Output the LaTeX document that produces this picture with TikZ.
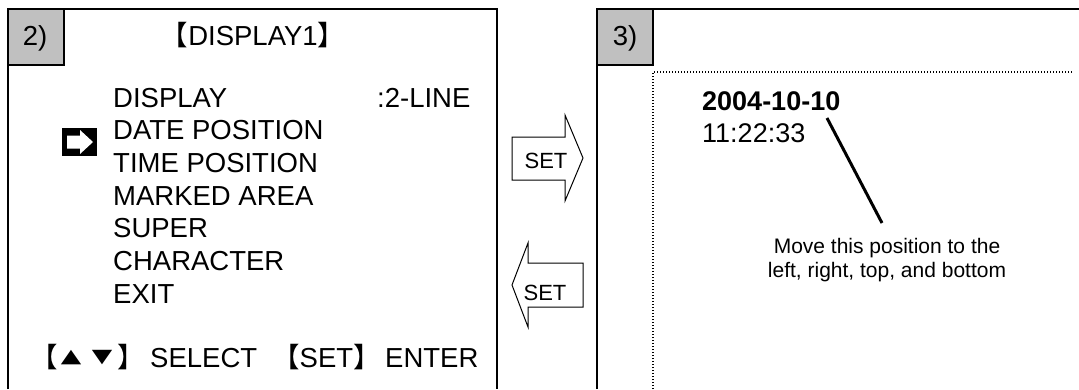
\documentclass[tikz,border=0pt]{standalone}
\usepackage{fontspec}
\setmainfont{Liberation Sans}
\newfontfamily\cjk{Noto Sans CJK SC}
\newfontfamily\djv{DejaVu Sans}
\definecolor{boxgray}{RGB}{192,192,192}
\newcommand{\tri}[1]{{\djv\fontsize{19}{19}\selectfont\scalebox{1.4}[1]{#1}}}
\begin{document}
\begin{tikzpicture}[x=1pt,y=-1pt,
  frame/.style={line width=1.6pt},
  labelbox/.style={draw, line width=1.6pt, fill=boxgray},
  dotline/.style={line width=1.4pt, dash pattern=on 1.4pt off 1.6pt},
  menu/.style={anchor=base west, inner sep=0pt, font=\fontsize{27.5}{27.5}\selectfont},
  big/.style={anchor=base, inner sep=0pt, font=\fontsize{27.5}{27.5}\selectfont},
  datetext/.style={anchor=base west, inner sep=0pt, font=\fontsize{27}{27}\selectfont},
  note/.style={anchor=base, inner sep=0pt, font=\fontsize{21}{21}\selectfont},
  settext/.style={anchor=base, inner sep=0pt, font=\fontsize{22}{22}\selectfont},
  bigarrow/.style={draw, line width=1pt, fill=white, line join=miter},
  leader/.style={line width=3pt}]
\useasboundingbox (0,0) rectangle (1079,389);
\fill[white] (0,0) rectangle (1079,389);
% left panel
\draw[frame] (8,389) -- (8,9) -- (497,9) -- (497,389);
\draw[labelbox] (8,9) rectangle (64,65);
\node[big] (lab2) at (35,45) {2)};
\node[big] (title) at (253,45) {{\cjk 【}DISPLAY1{\cjk 】}};
\node[menu] (m1) at (113,107) {DISPLAY};
\node[menu] (m1v) at (377,107) {:2-LINE};
\node[menu] (m2) at (113,139.7) {DATE POSITION};
\node[menu] (m3) at (113,172.4) {TIME POSITION};
\node[menu] (m4) at (113,205) {MARKED AREA};
\node[menu] (m5) at (113,237.8) {SUPER};
\node[menu] (m6) at (113,270.5) {CHARACTER};
\node[menu] (m7) at (113,303.2) {EXIT};
% key help line
\node[menu] (k1) at (30,367) {{\cjk 【}};
\node[anchor=base, inner sep=0pt] (k2) at (71,362) {\tri{▲}};
\node[anchor=base, inner sep=0pt] (k3) at (102,362) {\tri{▼}};
\node[menu] (k4) at (117,367) {{\cjk 】}};
\node[menu] (k5) at (150,367) {SELECT};
\node[menu] (k6) at (272,367) {{\cjk 【}SET{\cjk 】}};
\node[menu] (k7) at (385,367) {ENTER};
% cursor icon
\fill (62,128) rectangle (97,156);
\fill[white] (67,135.5) -- (80,135.5) -- (80,130) -- (93,142) -- (80,154) -- (80,148.5) -- (67,148.5) -- cycle;
% SET arrows
\draw[bigarrow] (512,137) -- (565,137) -- (565,115) -- (583,158) -- (565,201) -- (565,180) -- (512,180) -- cycle;
\node[settext] (setr) at (546,168) {SET};
\draw[bigarrow] (583,263) -- (528,263) -- (528,243) -- (512,285) -- (528,327) -- (528,307) -- (583,307) -- cycle;
\node[settext] (setl) at (545,300) {SET};
% right panel
\draw[frame] (597,389) -- (597,9) -- (1079,9);
\draw[labelbox] (597,9) rectangle (653,65);
\node[big] (lab3) at (625,45) {3)};
\draw[dotline] (653,389) -- (653,72) -- (1073,72);
\node[datetext, font=\fontsize{27}{27}\selectfont\bfseries] (date) at (702,110) {2004-10-10};
\node[datetext] (time) at (702,142) {11:22:33};
\node[note] (note1) at (887,253) {Move this position to the};
\node[note] (note2) at (887,277) {left, right, top, and bottom};
\coordinate (leadA) at (827,118);
\coordinate (leadB) at (882,223);
\draw[leader] (leadA) -- (leadB);
\end{tikzpicture}
\end{document}
